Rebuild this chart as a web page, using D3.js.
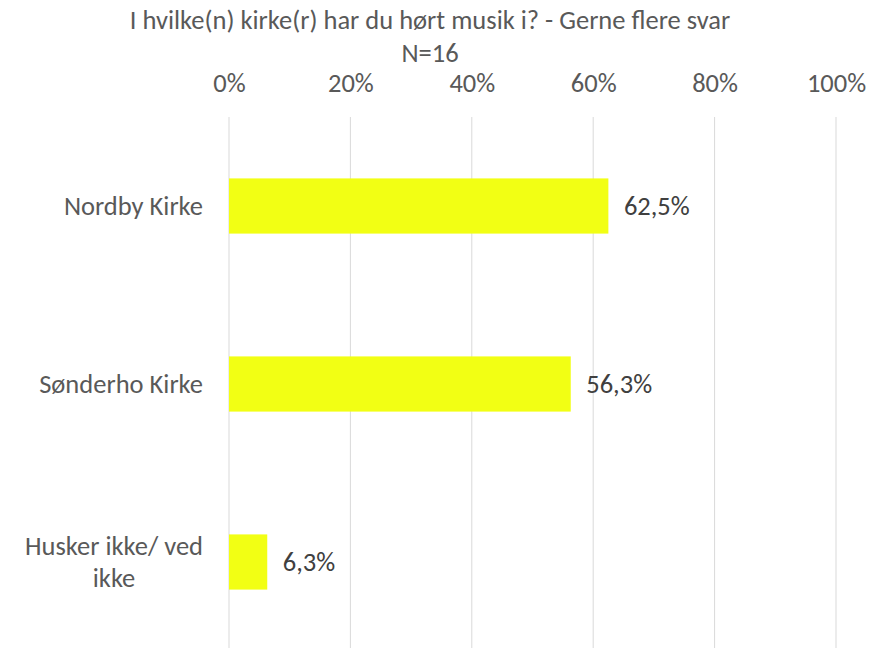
<!DOCTYPE html>
<html>
<head>
<meta charset="utf-8">
<script src="https://cdn.jsdelivr.net/npm/d3@7"></script>
<style>
  body { margin: 0; background: #fff; }
  svg text { font-family: Carlito, Calibri, "Open Sans", sans-serif; }
</style>
</head>
<body>
<div id="chart"></div>
<script>
var titleLines = ['I hvilke(n) kirke(r) har du hørt musik i? - Gerne flere svar', 'N=16'];
var categories = ['Nordby Kirke', 'Sønderho Kirke', 'Husker ikke/ ved ikke'];
var categoryLines = [['Nordby Kirke'], ['Sønderho Kirke'], ['Husker ikke/ ved', 'ikke']];
var values = [62.5, 56.3, 6.3];
var ticks = [0, 20, 40, 60, 80, 100];

var width = 882, height = 648,
    fontSize = '26.5px';

var svg = d3.select('#chart').append('svg')
  .attr('width', width)
  .attr('height', height);

var x = d3.scaleLinear().domain([0, 100]).range([229, 836]);
var y = d3.scaleBand().domain(categories).range([117, 651])
  .paddingInner(0.69).paddingOuter(0.345);

// title
svg.selectAll('text.title')
  .data(titleLines)
  .enter().append('text')
  .attr('class', 'title')
  .attr('x', 430)
  .attr('y', function (d, i) { return 29 + i * 33; })
  .attr('text-anchor', 'middle')
  .attr('fill', '#595959')
  .style('font-size', fontSize)
  .text(function (d) { return d; });

// gridlines
svg.selectAll('line.grid')
  .data(ticks)
  .enter().append('line')
  .attr('class', 'grid')
  .attr('x1', function (d) { return x(d); })
  .attr('x2', function (d) { return x(d); })
  .attr('y1', 117)
  .attr('y2', height)
  .attr('stroke', '#d9d9d9')
  .attr('stroke-width', 1);

// top axis
var axis = svg.append('g')
  .attr('transform', 'translate(0,92)')
  .call(d3.axisTop(x).tickValues(ticks).tickSize(0).tickPadding(0)
    .tickFormat(function (d) { return d + '%'; }));
axis.select('.domain').remove();
axis.selectAll('text')
  .attr('dy', 0)
  .attr('fill', '#595959')
  .style('font-size', fontSize)
  .style('font-family', 'Carlito, Calibri, "Open Sans", sans-serif');

// bars
svg.selectAll('rect.bar')
  .data(values)
  .enter().append('rect')
  .attr('class', 'bar')
  .attr('x', x(0))
  .attr('y', function (d, i) { return y(categories[i]); })
  .attr('width', function (d) { return x(d) - x(0); })
  .attr('height', y.bandwidth())
  .attr('fill', '#f2ff14');

// data labels
svg.selectAll('text.value')
  .data(values)
  .enter().append('text')
  .attr('class', 'value')
  .attr('x', function (d) { return x(d) + 15.5; })
  .attr('y', function (d, i) { return y(categories[i]) + y.bandwidth() / 2; })
  .attr('dy', '0.33em')
  .attr('fill', '#404040')
  .style('font-size', fontSize)
  .text(function (d) { return d.toFixed(1).replace('.', ',') + '%'; });

// category labels
var cat = svg.selectAll('text.cat')
  .data(categoryLines)
  .enter().append('text')
  .attr('class', 'cat')
  .attr('fill', '#595959')
  .attr('text-anchor', 'middle')
  .style('font-size', fontSize);

cat.each(function (lines, i) {
  var t = d3.select(this),
      cy = y(categories[i]) + y.bandwidth() / 2,
      lh = 32,
      widest = 0;
  lines.forEach(function (l, j) {
    t.append('tspan')
      .attr('y', cy + (j - (lines.length - 1) / 2) * lh)
      .attr('dy', '0.33em')
      .text(l);
  });
  t.selectAll('tspan').each(function () {
    widest = Math.max(widest, this.getComputedTextLength());
  });
  t.selectAll('tspan').attr('x', 203 - widest / 2);
});
</script>
</body>
</html>
